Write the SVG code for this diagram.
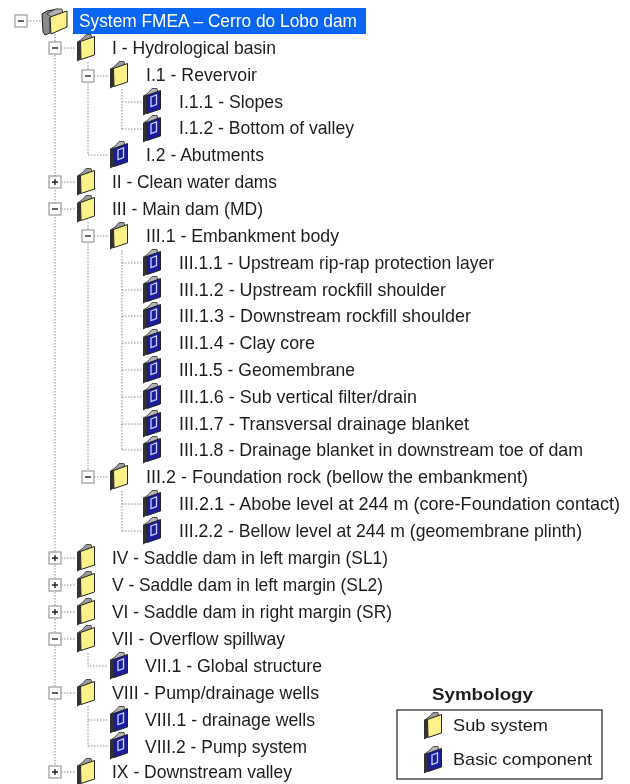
<svg xmlns="http://www.w3.org/2000/svg" width="630" height="784" viewBox="0 0 630 784">
<style>
text{font-family:"Liberation Sans",Arial,sans-serif;font-size:18.5px;fill:#1e1e1e;filter:url(#soft)}
.dot{stroke:#8c8c8c;stroke-width:1;stroke-dasharray:1.5 1.5;fill:none}
.box{fill:#fff;stroke:#9a9a9a;stroke-width:1.2}
.sign{stroke:#222;stroke-width:1.4;fill:none}
.ic{filter:url(#soft)}
</style>
<defs>
<filter id="soft" x="-5%" y="-20%" width="110%" height="140%"><feGaussianBlur stdDeviation="0.3"/></filter>
<g id="folderY" class="ic">
<path d="M-8.500 -6L-4 -9L0 -13.500L5 -13.500L6 -10L-3 -6Z" fill="#9a9a9a" stroke="#333" stroke-width="0.8"/>
<path d="M-9 -6L-5.500 -7.500L-5 11.500L-9 13.500Z" fill="#333"/>
<path d="M-5.500 -6.500L8.500 -11.500L8.500 7L-5 11.500Z" fill="#fbf38a" stroke="#222" stroke-width="1"/>
</g>
<g id="folderB" class="ic">
<path d="M-8.500 -6L-4 -9L0 -13.500L5 -13.500L6 -10L-3 -6Z" fill="#b4b4b4" stroke="#333" stroke-width="0.8"/>
<path d="M-9 -6L-5.500 -7.500L-5 11.500L-9 13.500Z" fill="#333"/>
<path d="M-5.500 -6.500L8.500 -11.500L8.500 7L-5 11.500Z" fill="#1c1f9a" stroke="#222" stroke-width="1"/>
<path d="M-1 -5L4.500 -7L4.500 2.500L-1 4.500Z" fill="none" stroke="#c8d0f5" stroke-width="1.300"/>
</g>
<g id="minus"><rect class="box" x="-6" y="-6" width="12" height="12"/><path class="sign" d="M-3 0H3"/></g>
<g id="plus"><rect class="box" x="-6" y="-6" width="12" height="12"/><path class="sign" d="M-3 0H3M0 -3V3"/></g>
</defs>
<g id="connectors">
<path class="dot" d="M27 21H41M55 34V772M61 48H76M61 182H76M61 209H76M61 558H76M61 585H76M61 612H76M61 639H76M61 693H76M61 772H76"/>
<path class="dot" d="M88 62V155M94 76H109M88 155H109M122 89V129M122 102H142M122 129H142"/>
<path class="dot" d="M88 222V477M94 236H109M94 477H109M122 250V450M122 263H142M122 290H142M122 316H142M122 343H142M122 370H142M122 397H142M122 424H142M122 450H142M122 491V531M122 504H142M122 531H142"/>
<path class="dot" d="M88 653V666H108M88 706V746M88 720H108M88 746H108"/>
</g>
<g id="n0"><use href="#minus" x="21" y="21"/>
<path class="ic" d="M42 14L47 11L58 9L60 13L50 17L50 33L45 35L43 32Z" fill="#8a8a8a" stroke="#222" stroke-width="1"/>
<path class="ic" d="M47 14L52 11L56 9L62 9L63 13L52 17Z" fill="#b0b0b0" stroke="#333" stroke-width="0.8"/>
<path class="ic" d="M50 17L67 11L67 27L51 34Z" fill="#fbf38a" stroke="#222" stroke-width="1"/>
<rect x="73" y="8" width="293" height="26" fill="#0a66f0"/><text x="79" y="27" textLength="278" lengthAdjust="spacingAndGlyphs" style="fill:#fff">System FMEA – Cerro do Lobo dam</text></g>
<g id="n1"><use href="#minus" x="55" y="48"/><use href="#folderY" x="86" y="48"/><text x="112" y="54" textLength="164" lengthAdjust="spacingAndGlyphs">I - Hydrological basin</text></g>
<g id="n1-1"><use href="#minus" x="88" y="76"/><use href="#folderY" x="119" y="75"/><text x="146" y="81" textLength="111" lengthAdjust="spacingAndGlyphs">I.1 - Revervoir</text></g>
<g id="n1-1-1"><use href="#folderB" x="152" y="102"/><text x="179" y="107.500" textLength="104" lengthAdjust="spacingAndGlyphs">I.1.1 - Slopes</text></g>
<g id="n1-1-2"><use href="#folderB" x="152" y="129"/><text x="179" y="134" textLength="175" lengthAdjust="spacingAndGlyphs">I.1.2 - Bottom of valley</text></g>
<g id="n1-2"><use href="#folderB" x="119" y="155"/><text x="146" y="161" textLength="118" lengthAdjust="spacingAndGlyphs">I.2 - Abutments</text></g>
<g id="n2"><use href="#plus" x="55" y="182"/><use href="#folderY" x="86" y="182"/><text x="112" y="188" textLength="165" lengthAdjust="spacingAndGlyphs">II - Clean water dams</text></g>
<g id="n3"><use href="#minus" x="55" y="209"/><use href="#folderY" x="86" y="209"/><text x="112" y="215" textLength="151" lengthAdjust="spacingAndGlyphs">III - Main dam (MD)</text></g>
<g id="n3-1"><use href="#minus" x="88" y="236"/><use href="#folderY" x="119" y="236"/><text x="146" y="242" textLength="193" lengthAdjust="spacingAndGlyphs">III.1 - Embankment body</text></g>
<g id="n3-1-1"><use href="#folderB" x="152" y="263"/><text x="179" y="269" textLength="315" lengthAdjust="spacingAndGlyphs">III.1.1 - Upstream rip-rap protection layer</text></g>
<g id="n3-1-2"><use href="#folderB" x="152" y="290"/><text x="179" y="296" textLength="267" lengthAdjust="spacingAndGlyphs">III.1.2 - Upstream rockfill shoulder</text></g>
<g id="n3-1-3"><use href="#folderB" x="152" y="316"/><text x="179" y="322" textLength="292" lengthAdjust="spacingAndGlyphs">III.1.3 - Downstream rockfill shoulder</text></g>
<g id="n3-1-4"><use href="#folderB" x="152" y="343"/><text x="179" y="349" textLength="136" lengthAdjust="spacingAndGlyphs">III.1.4 - Clay core</text></g>
<g id="n3-1-5"><use href="#folderB" x="152" y="370"/><text x="179" y="376" textLength="176" lengthAdjust="spacingAndGlyphs">III.1.5 - Geomembrane</text></g>
<g id="n3-1-6"><use href="#folderB" x="152" y="397"/><text x="179" y="403" textLength="238" lengthAdjust="spacingAndGlyphs">III.1.6 - Sub vertical filter/drain</text></g>
<g id="n3-1-7"><use href="#folderB" x="152" y="424"/><text x="179" y="430" textLength="290" lengthAdjust="spacingAndGlyphs">III.1.7 - Transversal drainage blanket</text></g>
<g id="n3-1-8"><use href="#folderB" x="152" y="450"/><text x="179" y="456" textLength="404" lengthAdjust="spacingAndGlyphs">III.1.8 - Drainage blanket in downstream toe of dam</text></g>
<g id="n3-2"><use href="#minus" x="88" y="477"/><use href="#folderY" x="119" y="477"/><text x="146" y="483" textLength="382" lengthAdjust="spacingAndGlyphs">III.2 -  Foundation rock (bellow the embankment)</text></g>
<g id="n3-2-1"><use href="#folderB" x="152" y="504"/><text x="179" y="510" textLength="441" lengthAdjust="spacingAndGlyphs">III.2.1 - Abobe level at 244 m (core-Foundation contact)</text></g>
<g id="n3-2-2"><use href="#folderB" x="152" y="531"/><text x="179" y="537" textLength="403" lengthAdjust="spacingAndGlyphs">III.2.2 - Bellow level at 244 m (geomembrane plinth)</text></g>
<g id="n4"><use href="#plus" x="55" y="558"/><use href="#folderY" x="86" y="558"/><text x="112" y="564" textLength="276" lengthAdjust="spacingAndGlyphs">IV - Saddle dam in left margin (SL1)</text></g>
<g id="n5"><use href="#plus" x="55" y="585"/><use href="#folderY" x="86" y="585"/><text x="112" y="591" textLength="271" lengthAdjust="spacingAndGlyphs">V - Saddle dam in left margin (SL2)</text></g>
<g id="n6"><use href="#plus" x="55" y="612"/><use href="#folderY" x="86" y="612"/><text x="112" y="617.500" textLength="280" lengthAdjust="spacingAndGlyphs">VI - Saddle dam in right margin (SR)</text></g>
<g id="n7"><use href="#minus" x="55" y="639"/><use href="#folderY" x="86" y="639"/><text x="112" y="644.500" textLength="173" lengthAdjust="spacingAndGlyphs">VII - Overflow spillway</text></g>
<g id="n7-1"><use href="#folderB" x="119" y="666"/><text x="145" y="672" textLength="177" lengthAdjust="spacingAndGlyphs">VII.1 - Global structure</text></g>
<g id="n8"><use href="#minus" x="55" y="693"/><use href="#folderY" x="86" y="693"/><text x="112" y="698.500" textLength="207" lengthAdjust="spacingAndGlyphs">VIII - Pump/drainage wells</text></g>
<g id="n8-1"><use href="#folderB" x="119" y="720"/><text x="145" y="726" textLength="170" lengthAdjust="spacingAndGlyphs">VIII.1 - drainage wells</text></g>
<g id="n8-2"><use href="#folderB" x="119" y="746"/><text x="145" y="752.500" textLength="162" lengthAdjust="spacingAndGlyphs">VIII.2 - Pump system</text></g>
<g id="n9"><use href="#plus" x="55" y="772"/><use href="#folderY" x="86" y="772"/><text x="112" y="778" textLength="180" lengthAdjust="spacingAndGlyphs">IX - Downstream valley</text></g>
<g id="legend">
<text x="432" y="700" textLength="101" lengthAdjust="spacingAndGlyphs" style="font-weight:bold;font-size:16.500px">Symbology</text>
<rect x="397" y="710" width="205" height="69" fill="#fff" stroke="#222" stroke-width="1.2"/>
<use href="#folderY" x="433" y="726"/><text x="453" y="731" textLength="95" lengthAdjust="spacingAndGlyphs" style="font-size:17px">Sub system</text>
<use href="#folderB" x="433" y="760"/><text x="453" y="765" textLength="139" lengthAdjust="spacingAndGlyphs" style="font-size:17px">Basic component</text>
</g>
</svg>
